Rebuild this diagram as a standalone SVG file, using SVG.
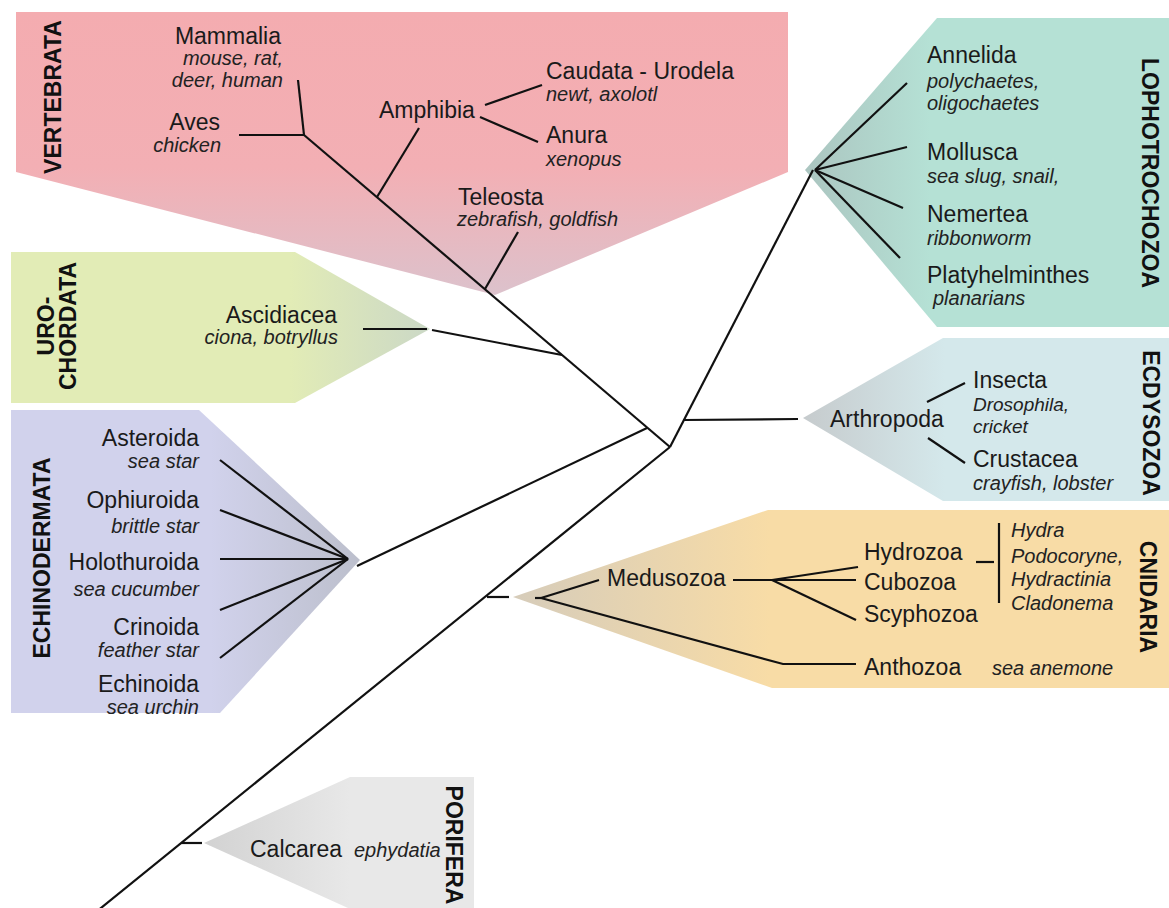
<svg xmlns="http://www.w3.org/2000/svg" width="1169" height="908" viewBox="0 0 1169 908">
<defs>
<linearGradient id="gVert" x1="0" y1="12" x2="0" y2="295" gradientUnits="userSpaceOnUse">
<stop offset="0" stop-color="#f4acb0"/><stop offset="0.55" stop-color="#f3afb4"/><stop offset="1" stop-color="#dcc2cc"/>
</linearGradient>
<linearGradient id="gUro" x1="290" y1="0" x2="430" y2="0" gradientUnits="userSpaceOnUse">
<stop offset="0" stop-color="#e2ecb6"/><stop offset="1" stop-color="#cbd8c6"/>
</linearGradient>
<linearGradient id="gEchi" x1="210" y1="0" x2="360" y2="0" gradientUnits="userSpaceOnUse">
<stop offset="0" stop-color="#d1d2ec"/><stop offset="1" stop-color="#bcbfcc"/>
</linearGradient>
<linearGradient id="gLoph" x1="930" y1="0" x2="805" y2="0" gradientUnits="userSpaceOnUse">
<stop offset="0" stop-color="#b5e1d5"/><stop offset="1" stop-color="#abc5c0"/>
</linearGradient>
<linearGradient id="gEcdy" x1="945" y1="0" x2="803" y2="0" gradientUnits="userSpaceOnUse">
<stop offset="0" stop-color="#d4e8eb"/><stop offset="1" stop-color="#c6cbcd"/>
</linearGradient>
<linearGradient id="gCnid" x1="770" y1="0" x2="513" y2="0" gradientUnits="userSpaceOnUse">
<stop offset="0" stop-color="#f8dca6"/><stop offset="1" stop-color="#d6ccba"/>
</linearGradient>
<linearGradient id="gPori" x1="350" y1="0" x2="204" y2="0" gradientUnits="userSpaceOnUse">
<stop offset="0" stop-color="#e8e8e8"/><stop offset="1" stop-color="#d2d2d2"/>
</linearGradient>
</defs>
<style>
.t{font-family:"Liberation Sans",Arial,sans-serif;font-size:23px;fill:#1a1a1a}
.i{font-family:"Liberation Sans",Arial,sans-serif;font-size:20px;font-style:italic;fill:#222}
.s{font-size:19px}
.c{font-family:"Liberation Sans",Arial,sans-serif;font-size:23px;font-weight:bold;fill:#111;text-anchor:middle}
.e{text-anchor:end}
#connectors line,#connectors polyline{stroke:#111;stroke-width:2.2;fill:none}
</style>
<rect x="0" y="0" width="1169" height="908" fill="#ffffff"/>

<g id="clade-vertebrata">
<polygon points="16,12 788,12 788,172 495,295 16,172" fill="url(#gVert)"/>
<text class="c" transform="translate(61,97) rotate(-90)">VERTEBRATA</text>
</g>
<g id="clade-urochordata">
<polygon points="11,252 295,252 430,329 295,403 11,403" fill="url(#gUro)"/>
<text class="c" transform="translate(54,326) rotate(-90)">URO-</text>
<text class="c" transform="translate(76,326) rotate(-90)">CHORDATA</text>
</g>
<g id="clade-echinodermata">
<polygon points="11,410 199,410 360,560 220,713 11,713" fill="url(#gEchi)"/>
<text class="c" transform="translate(50,558) rotate(-90)">ECHINODERMATA</text>
</g>
<g id="clade-lophotrochozoa">
<polygon points="805,170 937,18 1169,18 1169,327 937,327" fill="url(#gLoph)"/>
<text class="c" transform="translate(1142,173) rotate(90)">LOPHOTROCHOZOA</text>
</g>
<g id="clade-ecdysozoa">
<polygon points="803,418 943,338 1169,338 1169,501 943,501" fill="url(#gEcdy)"/>
<text class="c" transform="translate(1143,423) rotate(90)">ECDYSOZOA</text>
</g>
<g id="clade-cnidaria">
<polygon points="513,597 768,510 1169,510 1169,688 772,688" fill="url(#gCnid)"/>
<text class="c" transform="translate(1140,597) rotate(90)">CNIDARIA</text>
</g>
<g id="clade-porifera">
<polygon points="204,843 350,777 474,777 474,908 348,908" fill="url(#gPori)"/>
<text class="c" transform="translate(446,845) rotate(90)">PORIFERA</text>
</g>

<g id="connectors">
<line x1="239" y1="135" x2="304" y2="135"/>
<line x1="298" y1="80" x2="304" y2="135"/>
<line x1="304" y1="135" x2="670" y2="447"/>
<line x1="377" y1="197" x2="419" y2="128"/>
<line x1="485" y1="105" x2="542" y2="85"/>
<line x1="480" y1="117" x2="538" y2="142"/>
<line x1="518" y1="232" x2="485" y2="289"/>
<line x1="363" y1="329" x2="427" y2="329"/>
<line x1="432" y1="330" x2="562" y2="355"/>
<line x1="647" y1="428" x2="357" y2="566"/>
<line x1="348" y1="559" x2="220" y2="460"/>
<line x1="348" y1="559" x2="220" y2="510"/>
<line x1="348" y1="559" x2="220" y2="559"/>
<line x1="348" y1="559" x2="220" y2="610"/>
<line x1="348" y1="559" x2="220" y2="658"/>
<line x1="670" y1="447" x2="96" y2="912"/>
<line x1="181" y1="843" x2="202" y2="843"/>
<line x1="487" y1="597" x2="509" y2="597"/>
<line x1="535" y1="598" x2="541" y2="598"/>
<line x1="541" y1="598" x2="599" y2="580"/>
<polyline points="541,598 783,664 856,664"/>
<line x1="733" y1="580" x2="772" y2="580"/>
<line x1="772" y1="580" x2="858" y2="567"/>
<line x1="772" y1="580" x2="856" y2="580"/>
<line x1="772" y1="580" x2="856" y2="620"/>
<line x1="976" y1="562" x2="994" y2="562"/>
<line x1="999" y1="523" x2="999" y2="603"/>
<line x1="670" y1="447" x2="813" y2="170"/>
<line x1="815" y1="170" x2="907" y2="83"/>
<line x1="815" y1="170" x2="907" y2="147"/>
<line x1="815" y1="170" x2="903" y2="208"/>
<line x1="815" y1="170" x2="900" y2="258"/>
<line x1="683" y1="420" x2="798" y2="419"/>
<line x1="927" y1="402" x2="965" y2="383"/>
<line x1="928" y1="438" x2="965" y2="463"/>
</g>

<g id="node-mammalia"><text class="t e" x="281" y="44">Mammalia</text><text class="i e" x="283" y="65">mouse, rat,</text><text class="i e" x="283" y="87">deer, human</text></g>
<g id="node-aves"><text class="t e" x="220" y="130">Aves</text><text class="i e" x="221" y="152">chicken</text></g>
<g id="node-amphibia"><text class="t" x="379" y="118">Amphibia</text></g>
<g id="node-caudata"><text class="t" x="546" y="79">Caudata - Urodela</text><text class="i" x="546" y="101">newt, axolotl</text></g>
<g id="node-anura"><text class="t" x="546" y="143">Anura</text><text class="i" x="546" y="166">xenopus</text></g>
<g id="node-teleosta"><text class="t" x="458" y="205">Teleosta</text><text class="i" x="457" y="226">zebrafish, goldfish</text></g>
<g id="node-ascidiacea"><text class="t e" x="337" y="323">Ascidiacea</text><text class="i e" x="338" y="344">ciona, botryllus</text></g>

<g id="node-asteroida"><text class="t e" x="199" y="446">Asteroida</text><text class="i e" x="199" y="468">sea star</text></g>
<g id="node-ophiuroida"><text class="t e" x="199" y="508">Ophiuroida</text><text class="i e" x="199" y="533">brittle star</text></g>
<g id="node-holothuroida"><text class="t e" x="199" y="570">Holothuroida</text><text class="i e" x="199" y="596">sea cucumber</text></g>
<g id="node-crinoida"><text class="t e" x="199" y="635">Crinoida</text><text class="i e" x="199" y="657">feather star</text></g>
<g id="node-echinoida"><text class="t e" x="199" y="692">Echinoida</text><text class="i e" x="199" y="714">sea urchin</text></g>

<g id="node-annelida"><text class="t" x="927" y="63">Annelida</text><text class="i" x="927" y="88">polychaetes,</text><text class="i" x="927" y="110">oligochaetes</text></g>
<g id="node-mollusca"><text class="t" x="927" y="160">Mollusca</text><text class="i" x="927" y="183">sea slug, snail,</text></g>
<g id="node-nemertea"><text class="t" x="927" y="222">Nemertea</text><text class="i" x="927" y="245">ribbonworm</text></g>
<g id="node-platyhelminthes"><text class="t" x="927" y="283">Platyhelminthes</text><text class="i" x="933" y="305">planarians</text></g>

<g id="node-arthropoda"><text class="t" x="830" y="427">Arthropoda</text></g>
<g id="node-insecta"><text class="t" x="973" y="388">Insecta</text><text class="i s" x="973" y="411">Drosophila,</text><text class="i s" x="973" y="433">cricket</text></g>
<g id="node-crustacea"><text class="t" x="973" y="467">Crustacea</text><text class="i" x="973" y="490">crayfish, lobster</text></g>

<g id="node-medusozoa"><text class="t" x="607" y="586">Medusozoa</text></g>
<g id="node-hydrozoa"><text class="t" x="864" y="560">Hydrozoa</text></g>
<g id="node-cubozoa"><text class="t" x="864" y="590">Cubozoa</text></g>
<g id="node-scyphozoa"><text class="t" x="864" y="622">Scyphozoa</text></g>
<g id="node-hydrozoa-species"><text class="i" x="1011" y="537">Hydra</text><text class="i" x="1011" y="563">Podocoryne,</text><text class="i" x="1011" y="586">Hydractinia</text><text class="i" x="1011" y="610">Cladonema</text></g>
<g id="node-anthozoa"><text class="t" x="864" y="675">Anthozoa</text><text class="i" x="992" y="675">sea anemone</text></g>

<g id="node-calcarea"><text class="t" x="250" y="857">Calcarea</text><text class="i" x="354" y="857">ephydatia</text></g>
</svg>
